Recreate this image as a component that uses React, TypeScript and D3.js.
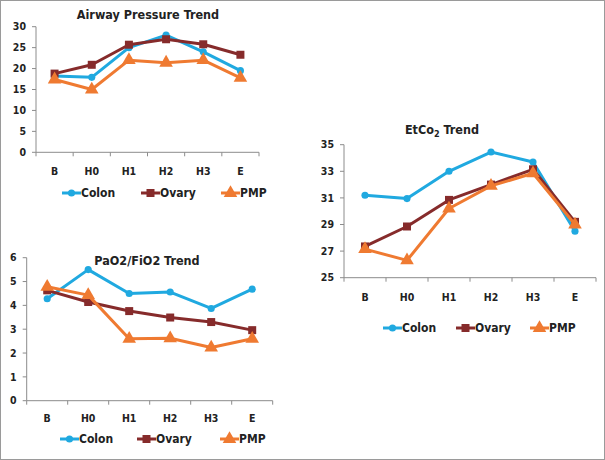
import React from 'react';
import * as d3 from 'd3';

const categories = ['B', 'H0', 'H1', 'H2', 'H3', 'E'];
const seriesNames = ['Colon', 'Ovary', 'PMP'];

const airwayColon = [18.2, 17.9, 25.0, 28.0, 24.0, 19.5];
const airwayOvary = [18.8, 20.9, 25.7, 27.0, 25.8, 23.3];
const airwayPmp = [17.4, 15.0, 22.0, 21.4, 22.0, 17.8];
const airwayTicks = [0, 5, 10, 15, 20, 25, 30];

const etcoColon = [31.2, 30.95, 33.0, 34.45, 33.7, 28.5];
const etcoOvary = [27.35, 28.85, 30.85, 32.0, 33.15, 29.2];
const etcoPmp = [27.15, 26.3, 30.2, 31.9, 32.85, 29.0];
const etcoTicks = [25, 27, 29, 31, 33, 35];

const paoColon = [4.28, 5.5, 4.5, 4.56, 3.87, 4.68];
const paoOvary = [4.63, 4.14, 3.76, 3.49, 3.3, 2.96];
const paoPmp = [4.78, 4.43, 2.6, 2.62, 2.23, 2.6];
const paoTicks = [0, 1, 2, 3, 4, 5, 6];

const colors = ['#20a9e0', '#862b2b', '#ef7a31'];
const symbols = [d3.symbolCircle, d3.symbolSquare, d3.symbolTriangle];
const symbolSizes = [40, 64, 80];
const font = '"Liberation Sans Narrow", "DejaVu Sans Condensed", Arial, sans-serif';

type ChartProps = {
  series: number[][];
  ticks: number[];
  x0: number;
  x1: number;
  yTop: number;
  yBot: number;
  labelY: number;
  legendY: number;
  legendX: number[];
  title: React.ReactNode;
  titleX: number;
  titleY: number;
};

const Chart = ({ series, ticks, x0, x1, yTop, yBot, labelY, legendY, legendX, title, titleX, titleY }: ChartProps) => {
  const x = d3.scaleBand().domain(categories).range([x0, x1]);
  const y = d3.scaleLinear().domain([ticks[0], ticks[ticks.length - 1]]).range([yBot, yTop]);
  const cx = (c: string) => (x(c) as number) + x.bandwidth() / 2;
  const line = d3
    .line<number>()
    .x((_, i) => cx(categories[i]))
    .y((d) => y(d));
  const boundaries = categories.map((c) => x(c) as number).concat([x1]);

  return (
    <g fontFamily={font} fontWeight="bold">
      <text x={titleX} y={titleY} textAnchor="middle" fontSize={12.5} fill="#222">
        {title}
      </text>
      <line x1={x0} x2={x0} y1={yTop} y2={yBot} stroke="#8c8c8c" />
      <line x1={x0} x2={x1} y1={yBot} y2={yBot} stroke="#8c8c8c" />
      {ticks.map((t) => (
        <g key={t}>
          <line x1={x0 - 4} x2={x0} y1={y(t)} y2={y(t)} stroke="#8c8c8c" />
          <text x={x0 - 10} y={y(t)} dy="0.35em" textAnchor="end" fontSize={10.5} fill="#222">
            {t}
          </text>
        </g>
      ))}
      {boundaries.map((b, i) => (
        <line key={i} x1={b} x2={b} y1={yBot} y2={yBot + 4} stroke="#8c8c8c" />
      ))}
      {categories.map((c) => (
        <text key={c} x={cx(c)} y={labelY} dy="0.35em" textAnchor="middle" fontSize={10.5} fill="#222">
          {c}
        </text>
      ))}
      {series.map((s, k) => (
        <g key={k}>
          <path d={line(s) as string} fill="none" stroke={colors[k]} strokeWidth={3} strokeLinejoin="round" />
          {s.map((v, i) => (
            <path
              key={i}
              d={d3.symbol(symbols[k], symbolSizes[k])() as string}
              transform={`translate(${cx(categories[i])},${y(v)})`}
              fill={colors[k]}
            />
          ))}
        </g>
      ))}
      {seriesNames.map((n, k) => (
        <g key={n} transform={`translate(${legendX[k]},${legendY})`}>
          <line x1={0} x2={19} y1={0} y2={0} stroke={colors[k]} strokeWidth={3} />
          <path d={d3.symbol(symbols[k], symbolSizes[k])() as string} transform="translate(9.5,0)" fill={colors[k]} />
          <text x={19} y={0} dy="0.35em" fontSize={12} fill="#222">
            {n}
          </text>
        </g>
      ))}
    </g>
  );
};

const App = () => {
  return (
    <div style={{ position: 'absolute', left: 0, top: 0 }}>
      <svg width={605} height={460} style={{ display: 'block', background: '#fff' }}>
        <rect x={0.5} y={0.5} width={604} height={459} fill="#fff" stroke="#9a9a9a" />
        <Chart
          series={[airwayColon, airwayOvary, airwayPmp]}
          ticks={airwayTicks}
          x0={36}
          x1={259}
          yTop={26.7}
          yBot={152.3}
          labelY={171}
          legendY={193}
          legendX={[62, 141, 221]}
          title="Airway Pressure Trend"
          titleX={148}
          titleY={19}
        />
        <Chart
          series={[etcoColon, etcoOvary, etcoPmp]}
          ticks={etcoTicks}
          x0={344}
          x1={596}
          yTop={144.7}
          yBot={277.7}
          labelY={297}
          legendY={328}
          legendX={[383, 456, 530]}
          title={
            <>
              EtCo<tspan fontSize={9} dy={3}>2</tspan>
              <tspan dy={-3}> Trend</tspan>
            </>
          }
          titleX={442}
          titleY={134}
        />
        <Chart
          series={[paoColon, paoOvary, paoPmp]}
          ticks={paoTicks}
          x0={26.7}
          x1={272.7}
          yTop={257.7}
          yBot={400.7}
          labelY={418}
          legendY={439}
          legendX={[60, 137, 220]}
          title="PaO2/FiO2 Trend"
          titleX={147}
          titleY={265}
        />
      </svg>
    </div>
  );
};

export default App;
